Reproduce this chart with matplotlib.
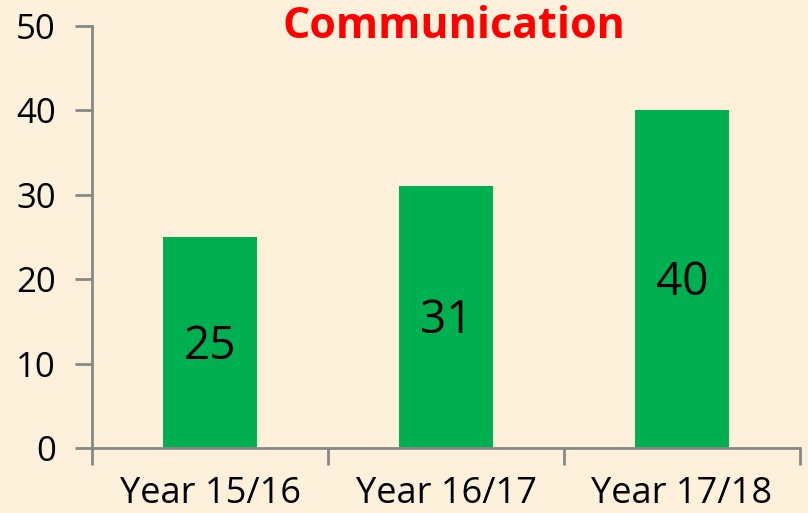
import matplotlib
matplotlib.use("Agg")
import matplotlib.pyplot as plt

plt.rcParams["font.family"] = ["Open Sans", "DejaVu Sans"]

categories = ["Year 15/16", "Year 16/17", "Year 17/18"]
values = [25, 31, 40]
title = "Communication"

bg = "#FDF1DC"
fig = plt.figure(figsize=(8.08, 5.13), dpi=100, facecolor=bg)
ax = fig.add_axes([92/808, 65/513, 708/808, 422/513])
ax.set_facecolor(bg)

x = range(len(categories))
bars = ax.bar(x, values, width=0.4, color="#00B050")
for xi, v in zip(x, values):
    ax.annotate(str(v), (xi, v/2), xytext=(0, -3), textcoords="offset points",
                ha="center", va="center", fontsize=33, color="black")

ax.set_xlim(-0.5, len(categories) - 0.5)
ax.set_ylim(0, 50)
ax.set_yticks(range(0, 51, 10))
ax.set_xticks([i for i in x])
ax.set_xticklabels(categories, fontsize=26)
ax.tick_params(axis="x", length=0, pad=20)
ax.tick_params(axis="y", labelsize=25, length=12, color="#888888", width=2, pad=14)
ax.set_xticks([i - 0.5 for i in range(len(categories) + 1)], minor=True)
ax.tick_params(axis="x", which="minor", length=12, color="#888888", width=2)
for s in ["top", "right"]:
    ax.spines[s].set_visible(False)
for s in ["left", "bottom"]:
    ax.spines[s].set_color("#888888")
    ax.spines[s].set_linewidth(2)

fig.text(454/808, 1 - 27/513, title, ha="center", va="center", fontsize=31,
         fontweight="bold", color="#FF0000")

fig.savefig("out.png", dpi=100, facecolor=bg)
